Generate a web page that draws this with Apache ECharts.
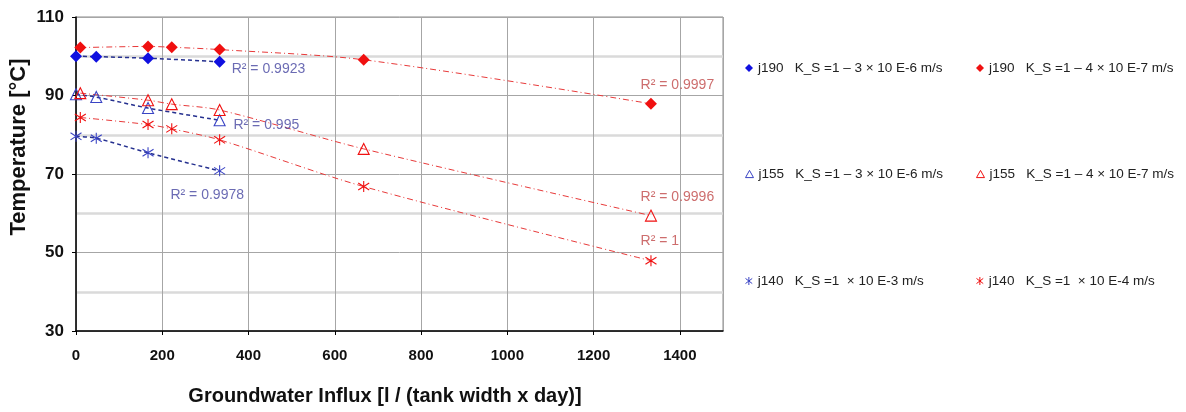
<!DOCTYPE html>
<html>
<head>
<meta charset="utf-8">
<script src="https://cdn.jsdelivr.net/npm/echarts@6/dist/echarts.min.js"></script>
<style>html,body{margin:0;padding:0;background:#fff;}#c{width:1186px;height:412px;}</style>
</head>
<body>
<div id="c"></div>
<script>
// ---- data ----
const xBlue = [0, 47, 167, 333];
const xRed = [10, 167, 222, 333, 667, 1333];
const j190Blue = [100.0, 99.9, 99.5, 98.6];
const j190Red = [102.2, 102.5, 102.3, 101.7, 99.1, 87.9];
const j155Blue = [90.3, 89.6, 86.8, 83.7];
const j155Red = [90.6, 88.8, 87.8, 86.3, 76.4, 59.4];
const j140Blue = [79.6, 79.1, 75.4, 70.8];
const j140Red = [84.4, 82.6, 81.5, 78.7, 66.8, 47.9];
const seriesNames = [
  'j190   K_S =1 \u2013 3 \u00d7 10 E-6 m/s',
  'j190   K_S =1 \u2013 4 \u00d7 10 E-7 m/s',
  'j155   K_S =1 \u2013 3 \u00d7 10 E-6 m/s',
  'j155   K_S =1 \u2013 4 \u00d7 10 E-7 m/s',
  'j140   K_S =1  \u00d7 10 E-3 m/s',
  'j140   K_S =1  \u00d7 10 E-4 m/s'
];
const r2Text = ['R\u00b2 = 0.9923', 'R\u00b2 = 0.995', 'R\u00b2 = 0.9978', 'R\u00b2 = 0.9997', 'R\u00b2 = 0.9996', 'R\u00b2 = 1'];
const r2X = [361, 365, 219, 1309, 1309, 1309];
const r2Y = [96.8, 82.5, 64.7, 92.6, 64.0, 52.9];
const xTicks = [0, 200, 400, 600, 800, 1000, 1200, 1400];
const yTicks = [30, 50, 70, 90, 110];

// ---- styling ----
const FONT = '"Liberation Sans", Arial, sans-serif';
const BLUE = '#1010e0';
const BLUE_TRI = '#3a44c4';
const BLUE_LINE = '#25308f';
const RED = '#f01010';
const RED_LINE = '#e83a3a';
const ASTER = 'path://M5 0 L5 10 M0.8 1.8 L9.2 8.2 M0.8 8.2 L9.2 1.8';
const TRI = 'path://M5 0 L10 9 L0 9 Z';

function pts(xs, ys) { return xs.map((x, i) => [x, ys[i]]); }

const defs = [
  {x: xBlue, y: j190Blue, sym: 'diamond', size: 12, color: BLUE, line: BLUE_LINE, dash: [4, 3], width: 1.5},
  {x: xRed, y: j190Red, sym: 'diamond', size: 12, color: RED, line: RED_LINE, dash: [6, 3, 1, 3], width: 1},
  {x: xBlue, y: j155Blue, sym: TRI, size: 11, color: BLUE_TRI, line: BLUE_LINE, dash: [4, 3], width: 1.5, hollow: true},
  {x: xRed, y: j155Red, sym: TRI, size: 11, color: RED, line: RED_LINE, dash: [6, 3, 1, 3], width: 1, hollow: true},
  {x: xBlue, y: j140Blue, sym: ASTER, size: 11, color: BLUE_TRI, line: BLUE_LINE, dash: [4, 3], width: 1.5},
  {x: xRed, y: j140Red, sym: ASTER, size: 11, color: RED, line: RED_LINE, dash: [6, 3, 1, 3], width: 1}
];

const series = defs.map((d, i) => ({
  name: seriesNames[i],
  type: 'line',
  data: pts(d.x, d.y),
  smooth: 0.3,
  symbol: d.sym,
  symbolSize: d.size,
  showSymbol: true,
  z: 3,
  itemStyle: {
    color: d.hollow ? 'rgba(255,255,255,0)' : d.color,
    borderColor: d.color,
    borderWidth: (d.sym === 'diamond') ? 0 : 1.1
  },
  lineStyle: {color: d.line, width: d.width, type: d.dash},
  emphasis: {disabled: true}
}));

series.push({
  type: 'scatter',
  name: 'r2',
  symbolSize: 0,
  silent: true,
  z: 5,
  data: r2Text.map((t, i) => ({
    value: [r2X[i], r2Y[i]], name: t,
    label: {color: i < 3 ? '#4646a0' : '#c04848'}
  })),
  label: {
    show: true,
    position: 'right',
    distance: 0,
    formatter: p => p.name,
    fontFamily: FONT,
    fontSize: 14
  }
});

const legPos = [[745, 61], [976, 61], [745, 167], [976, 167], [745, 274], [976, 274]];
const legends = defs.map((d, i) => ({
  left: legPos[i][0],
  top: legPos[i][1],
  padding: 0,
  itemWidth: 8,
  itemHeight: 8,
  itemGap: 5,
  selectedMode: false,
  textStyle: {fontFamily: FONT, fontSize: 13.5, color: '#222'},
  data: [{name: seriesNames[i], icon: d.sym,
    itemStyle: {color: d.hollow ? '#fff' : d.color, borderColor: d.color, borderWidth: d.sym === 'diamond' ? 0 : 1}}]
}));

const chart = echarts.init(document.getElementById('c'), null, {renderer: 'canvas'});
chart.setOption({
  animation: false,
  backgroundColor: '#fff',
  grid: {left: 76, right: 463, top: 17, bottom: 81, show: true, borderColor: '#8a8a8a', borderWidth: 1, backgroundColor: '#fff'},
  legend: legends,
  xAxis: {
    type: 'value',
    min: 0, max: 1500, interval: 200,
    axisLine: {show: true, onZero: false, lineStyle: {color: '#000', width: 1.5}},
    axisTick: {show: true, length: 4, lineStyle: {color: '#000'}},
    axisLabel: {
      margin: 17, showMaxLabel: false,
      fontFamily: FONT, fontSize: 15, fontWeight: 'bold', color: '#111',
      formatter: v => xTicks.indexOf(v) >= 0 ? String(v) : ''
    },
    splitLine: {show: true, lineStyle: {color: '#a6a6a6', width: 1}}
  },
  yAxis: {
    type: 'value',
    min: 30, max: 110, interval: 20,
    axisLine: {show: true, onZero: false, lineStyle: {color: '#000', width: 1.5}},
    axisTick: {show: true, length: 4, lineStyle: {color: '#000'}},
    axisLabel: {
      margin: 12, fontFamily: FONT, fontSize: 17, fontWeight: 'bold', color: '#111',
      formatter: v => yTicks.indexOf(v) >= 0 ? String(v) : ''
    },
    splitLine: {show: true, lineStyle: {color: '#a6a6a6', width: 1}},
    minorTick: {show: false, splitNumber: 2},
    minorSplitLine: {show: true, lineStyle: {color: '#dadada', width: 2.5}}
  },
  graphic: [
    {type: 'text', x: 19, y: 147, rotation: Math.PI / 2,
      style: {text: 'Temperature [\u00b0C]', font: 'bold 22px ' + FONT, fill: '#111', align: 'center', verticalAlign: 'middle'}},
    {type: 'text', x: 385, y: 396,
      style: {text: 'Groundwater Influx [l / (tank width x day)]', font: 'bold 20px ' + FONT, fill: '#111', align: 'center', verticalAlign: 'middle'}}
  ],
  series: series
});
</script>
</body>
</html>
